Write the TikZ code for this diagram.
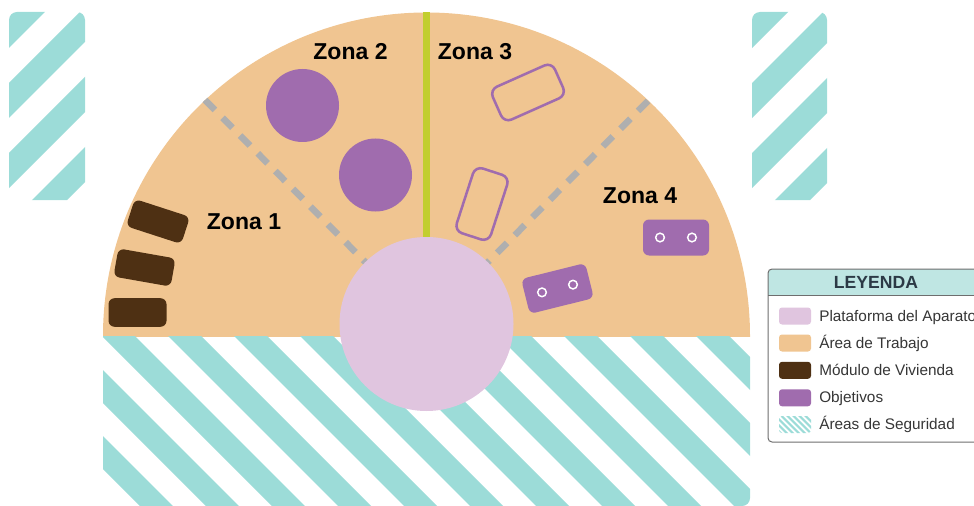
\documentclass[tikz,border=0pt]{standalone}
\usepackage{fontspec}
\setmainfont{Liberation Sans}
\usetikzlibrary{calc}
\definecolor{workarea}{HTML}{F0C591}
\definecolor{safeteal}{HTML}{9CDCD8}
\definecolor{objpurple}{HTML}{A06CAE}
\definecolor{modbrown}{HTML}{4E3013}
\definecolor{platpink}{HTML}{E0C5DF}
\definecolor{limeline}{HTML}{C2CE2E}
\definecolor{dashgray}{HTML}{AFAFAF}
\definecolor{legendhead}{HTML}{BFE6E3}
\definecolor{legendborder}{HTML}{6E6E6E}
\definecolor{titledark}{HTML}{2C3A46}
\definecolor{itemdark}{HTML}{363636}
\tikzset{
  objcircle/.style={circle, fill=objpurple, inner sep=0pt, minimum size=54.75pt},
  objoutline/.style={rectangle, rounded corners=6pt, draw=objpurple, line width=1.9pt, inner sep=0pt, minimum width=51pt, minimum height=27pt},
  objfill/.style={rectangle, rounded corners=4.5pt, fill=objpurple, inner sep=0pt, minimum width=49.5pt, minimum height=27pt},
  holering/.style={circle, draw=white, line width=1.1pt, inner sep=0pt, minimum size=6.5pt},
  modulebox/.style={rectangle, rounded corners=4.5pt, fill=modbrown, inner sep=0pt, minimum width=43.5pt, minimum height=21.4pt},
  platformnode/.style={circle, fill=platpink, inner sep=0pt, minimum size=130.5pt},
  zonelabel/.style={inner sep=0pt, font=\bfseries\fontsize{17.25pt}{17.25pt}\selectfont, text=black},
  legtitle/.style={inner sep=0pt, font=\bfseries\fontsize{13.2pt}{13.2pt}\selectfont, text=titledark},
  legtext/.style={inner sep=0pt, anchor=base west, font=\fontsize{11.5pt}{11.5pt}\selectfont, text=itemdark},
  swatchbox/.style={rectangle, rounded corners=2.25pt, inner sep=0pt, minimum width=24pt, minimum height=12.75pt},
  dashline/.style={dashgray, line width=4.9pt, dash pattern=on 10.5pt off 8.25pt}
}
\begin{document}
\begin{tikzpicture}[x=0.75pt,y=-0.75pt]
\useasboundingbox (0,0) rectangle (974,506);
\clip (0,0) rectangle (974,506);

% work area (upper half disc)
\begin{scope}
  \clip (0,0) rectangle (974,336);
  \fill[workarea] (426.5,336) circle[radius=323.5];
\end{scope}

% lower safety area
\begin{scope}
  \clip (0,336) rectangle (974,506);
  \clip[rounded corners=6pt] (103,300) rectangle (750,506);
  \foreach \k in {-4,...,11}{
    \fill[safeteal] ({-234+66*\k+300},300) -- ({-201+66*\k+300},300) -- ({-201+66*\k+520},520) -- ({-234+66*\k+520},520) -- cycle;
  }
\end{scope}

% upper-left safety area
\begin{scope}
  \clip[rounded corners=6pt] (9,12) rectangle (85,200);
  \foreach \k in {-1,...,4}{
    \fill[safeteal] ({22+70*\k},0) -- ({57+70*\k},0) -- ({57+70*\k-220},220) -- ({22+70*\k-220},220) -- cycle;
  }
\end{scope}

% upper-right safety area
\begin{scope}
  \clip[rounded corners=6pt] (752,12) rectangle (827,200);
  \foreach \k in {-1,...,4}{
    \fill[safeteal] ({765+70*\k},0) -- ({800+70*\k},0) -- ({800+70*\k-220},220) -- ({765+70*\k-220},220) -- cycle;
  }
\end{scope}

% zone dividers
\coordinate (pc) at (426.5,324);
\coordinate (dl) at (205,100);
\coordinate (dr) at (648,101);
\coordinate (gtop) at (426.5,12.5);
\draw[dashline] (dl) -- (pc);
\draw[dashline] (dr) -- (pc);
\draw[limeline, line width=5.25pt] (gtop) -- (pc);

% objectives, zone 2
\node[objcircle] (o1) at (302.5,105.5) {};
\node[objcircle] (o2) at (375.5,175) {};

% objectives, zone 3
\node[objoutline, rotate=24] (o3) at (528,92.5) {};
\node[objoutline, rotate=72] (o4) at (482,204) {};

% objectives, zone 4
\node[objfill] (o5) at (676,237.5) {};
\node[holering] (h5a) at ($(o5.center)!0.48!(o5.west)$) {};
\node[holering] (h5b) at ($(o5.center)!0.48!(o5.east)$) {};
\node[objfill, rotate=14] (o6) at (557.5,288.5) {};
\node[holering] (h6a) at ($(o6.center)!0.48!(o6.west)$) {};
\node[holering] (h6b) at ($(o6.center)!0.48!(o6.east)$) {};

% living modules
\node[modulebox, rotate=-18] (m1) at (158,221.5) {};
\node[modulebox, rotate=-10] (m2) at (144.5,267.5) {};
\node[modulebox] (m3) at (137.5,312.5) {};

% platform
\node[platformnode] (plat) at (pc) {};

% zone labels
\node[zonelabel] (z1) at (244,222) {Zona 1};
\node[zonelabel] (z2) at (350.5,51.5) {Zona 2};
\node[zonelabel] (z3) at (475,51.5) {Zona 3};
\node[zonelabel] (z4) at (640,195.5) {Zona 4};

% legend
\fill[white, rounded corners=3pt] (768,269) rectangle (990,442);
\begin{scope}
  \clip[rounded corners=3pt] (768,269) rectangle (990,442);
  \fill[legendhead] (768,269) rectangle (990,295);
\end{scope}
\draw[legendborder, line width=0.75pt] (768,295) -- (990,295);
\draw[legendborder, line width=0.75pt, rounded corners=3pt] (768,269) rectangle (990,442);
\node[legtitle] (legtitle) at (876,282.5) {LEYENDA};

\node[swatchbox, fill=platpink] (s1) at (795,316) {};
\node[swatchbox, fill=workarea] (s2) at (795,343) {};
\node[swatchbox, fill=modbrown] (s3) at (795,370.3) {};
\node[swatchbox, fill=objpurple] (s4) at (795,397.8) {};
\begin{scope}
  \clip[rounded corners=2.25pt] (779,416) rectangle (811,433);
  \foreach \i in {-1,...,9}{
    \fill[safeteal] ({346+6*\i+400},400) -- ({349+6*\i+400},400) -- ({349+6*\i+450},450) -- ({346+6*\i+450},450) -- cycle;
  }
\end{scope}
\node[swatchbox] (s5) at (795,424.5) {};

\node[legtext] (t1) at (819,321.5) {Plataforma del Aparato};
\node[legtext] (t2) at (819,348.5) {Área de Trabajo};
\node[legtext] (t3) at (819,375.5) {Módulo de Vivienda};
\node[legtext] (t4) at (819,402) {Objetivos};
\node[legtext] (t5) at (819,429) {Áreas de Seguridad};
\end{tikzpicture}
\end{document}
